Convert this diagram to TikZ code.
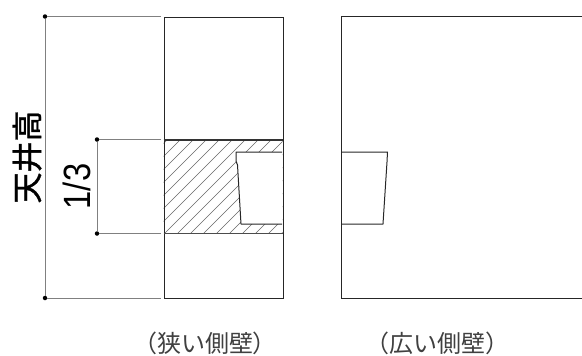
\documentclass[tikz,border=0pt]{standalone}
\usepackage{fontspec}
\newfontfamily\cjk{Noto Sans CJK JP}
\newfontfamily\cjkm[RawFeature={embolden=1.2}]{Noto Sans CJK JP}
\setmainfont{Liberation Sans}
\tikzset{
  wall/.style={draw=black!85,line width=1pt},
  dimline/.style={draw=black!50,line width=0.9pt},
  dimdot/.style={circle,fill=black,inner sep=0pt,minimum size=4.5pt},
  hatchline/.style={draw=black!60,line width=0.5pt},
  caption/.style={font=\cjk\fontsize{24}{24}\selectfont,text=black!75,inner sep=0pt}
}
\begin{document}
\begin{tikzpicture}[x=1pt,y=-1pt]
\useasboundingbox (0,0) rectangle (582,356);
\begin{scope}
\clip (163.5,140) rectangle (282.5,233.5);
\foreach \i in {0,...,16}{
  \draw[hatchline] ({163.5-90+13*\i},233.5) -- ({163.5+3.5+13*\i},140);
}
\end{scope}
\fill[white] (236,152) -- (282.5,152) -- (282.5,224) -- (241,224) -- (237.5,165) -- (236,161) -- cycle;
\coordinate (n1) at (236,152);
\coordinate (n2) at (282,152);
\coordinate (n3) at (241,224);
\coordinate (n4) at (282,224);
\draw[wall,line join=round] (n2) -- (n1) -- (236,161) -- (237.5,165) -- (n3) -- (n4);
\node[draw=black!85,line width=1pt,minimum width=119pt,minimum height=281.5pt,inner sep=0pt,anchor=north west] (narrow) at (163.5,16.5) {};
\draw[draw=black!80,line width=1.1pt] (163.5,140) -- (282.5,140);
\draw[draw=black!70,line width=1.4pt] (163.5,233.5) -- (282.5,233.5);
\draw[wall] (582,16) -- (341.5,16) -- (341.5,298) -- (582,298);
\coordinate (m0) at (341.5,152);
\coordinate (m1) at (387.5,152);
\coordinate (m2) at (383,224);
\coordinate (m3) at (341.5,224);
\draw[wall,line join=round] (m0) -- (m1) -- (387,162) -- (m2) -- (m3);
\node[dimdot] (a) at (45,16.5) {};
\node[dimdot] (b) at (45,298) {};
\node[dimdot] (c) at (97,139.5) {};
\node[dimdot] (d) at (97,233.5) {};
\coordinate (at) at (161,16.5);
\coordinate (ab) at (161,298);
\coordinate (ct) at (161,139.5);
\coordinate (cb) at (161,233.5);
\draw[dimline] (at) -- (a) -- (b) -- (ab);
\draw[dimline] (ct) -- (c) -- (d) -- (cb);
\node[font=\cjkm\fontsize{31}{31}\selectfont,rotate=90,inner sep=0pt] (tl) at (27,157) {天井高};
\node[font=\fontsize{38}{38}\selectfont,rotate=90,inner sep=0pt] (fr) at (76.5,186.5) {\scalebox{0.86}[1]{1/3}};
\node[caption] (cap1) at (205,343) {（狭い側壁）};
\node[caption] (cap2) at (437,343) {（広い側壁）};
\end{tikzpicture}
\end{document}
